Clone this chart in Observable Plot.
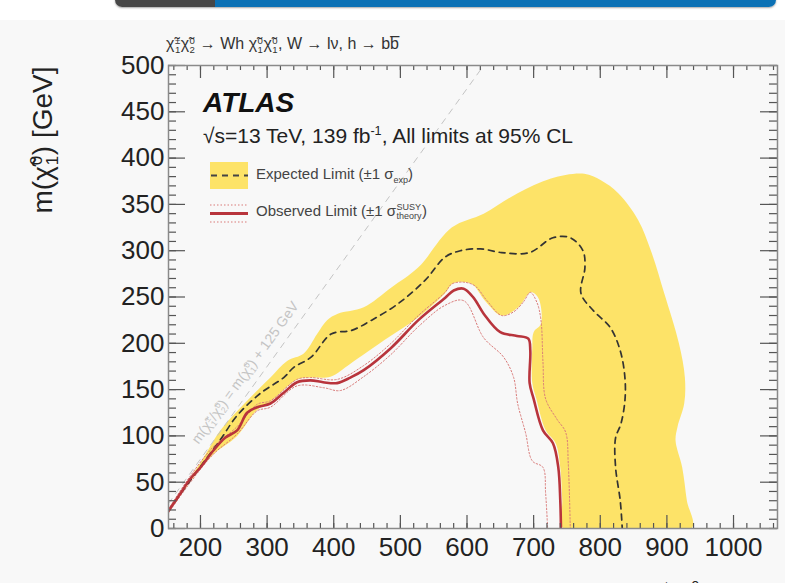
<!DOCTYPE html>
<html>
<head>
<meta charset="utf-8">
<script src="https://cdn.jsdelivr.net/npm/d3@7"></script>
<script src="https://cdn.jsdelivr.net/npm/@observablehq/plot@0.6"></script>
<style>
  body { margin: 0; background: #fff; font-family: "Liberation Sans", Arial, sans-serif; }
  #page { position: relative; width: 785px; height: 583px; overflow: hidden; background: #fff; }
  #bg { position: absolute; left: 0; top: 20px; width: 785px; height: 563px; background: #f8f8f8; }
  #bar { position: absolute; left: 115px; top: -7px; width: 661px; height: 14px; border-radius: 7px;
         background: linear-gradient(to right, #474747 0, #474747 100px, #0b71b5 100px);
         box-shadow: 0 1px 2px rgba(0,0,0,.35); }
  #chart { position: absolute; left: 0; top: 0; }
  .t { position: absolute; white-space: nowrap; color: #222; line-height: 1; }
  .ss { display: inline-flex; flex-direction: column; vertical-align: middle; font-size: 0.6em; line-height: 0.95; margin: 0 0.05em; }
  .sw { position: absolute; }
</style>
</head>
<body>
<div id="page">
  <div id="bg"></div>
  <div id="bar"></div>
  <div id="chart"></div>
</div>
<script>
// Axis ranges and ticks (GeV)
const xDomain = [152, 1066];
const yDomain = [0, 500];
const xMajor = [200, 300, 400, 500, 600, 700, 800, 900, 1000];
const xMinor = d3.range(160, 1066, 20);
const yMajor = [0, 50, 100, 150, 200, 250, 300, 350, 400, 450, 500];
const yMinor = d3.range(0, 501, 10);

// Kinematic boundary: m(chargino/neutralino2) = m(LSP) + m(h)
const higgsMass = 125;
const diagonalX = [152, 625];

// Observed limit contour [m(chi1+-/chi20), m(chi10)]
const observed = [[152,19],[170,38],[185,54],[200,66],[219,84],[237,98],[255,106],[270,125],[285,131],[305,135],[324,146],[345,158],[365,160],[384,158],[405,157],[425,163],[445,171],[486,195],[527,225],[567,249],[580,257],[595,259],[610,249],[625,232],[650,212],[675,208],[692,205],[695,192],[694,157],[700,140],[714,106],[729,92],[737,66],[740,30],[741,0]];

// Observed +1 sigma (theory)
const observedUp = [[152,21],[185,57],[219,88],[255,110],[285,134],[305,138],[345,161],[365,163],[405,161],[445,176],[486,200],[527,230],[567,255],[577,264],[595,266],[612,262],[630,246],[652,230],[670,234],[685,245],[695,255],[705,244],[711,225],[714,180],[718,140],[735,118],[748,104],[752,70],[755,0]];

// Observed -1 sigma (theory)
const observedDown = [[152,17],[185,50],[219,80],[255,102],[285,127],[305,131],[345,154],[385,152],[410,149],[445,164],[486,188],[527,218],[567,241],[595,246],[625,206],[655,185],[670,163],[676,135],[688,103],[698,73],[714,66],[718,38],[721,0]];

// Expected limit contour
const expected = [[152,19],[200,67],[230,96],[255,122],[290,146],[325,163],[340,174],[366,185],[396,210],[427,214],[457,225],[497,243],[537,268],[567,293],[590,300],[620,302],[652,298],[694,298],[729,314],[755,314],[774,300],[777,282],[771,254],[790,235],[815,217],[830,192],[837,163],[837,138],[831,113],[823,98],[823,66],[830,30],[833,0]];

// Expected +1 sigma (outer edge of the band)
const expectedUp = [[152,21],[200,71],[230,106],[270,138],[305,163],[330,181],[355,189],[375,210],[390,225],[406,232],[445,239],[486,260],[527,282],[577,325],[625,340],[676,362],[726,378],[776,383],[801,376],[827,362],[857,333],[876,300],[896,254],[918,200],[927,163],[926,135],[916,110],[913,95],[923,66],[930,30],[937,0]];

// Expected -1 sigma (inner edge of the band)
const expectedDown = [[152,17],[185,51],[219,80],[255,100],[285,128],[305,137],[345,161],[365,163],[395,164],[425,178],[475,203],[527,228],[567,254],[580,265],[607,264],[627,246],[652,230],[677,239],[696,255],[707,249],[711,221],[700,212],[698,195],[698,157],[704,140],[718,106],[733,92],[740,66],[743,30],[745,0]];

const band = expectedUp.concat(expectedDown.slice().reverse());

const X = d => d[0], Y = d => d[1];
const yellow = "#fde368";
const red = "#b8343c";
const pink = "#d97a78";
const tickColor = "#555";

const W = 785, H = 583, mT = 65, mL = 168, mR = 8, mB = 55;
const frameW = W - mL - mR, frameH = H - mT - mB;

// inward tick marks, drawn as short rules hugging each side of the frame
const ticksX = (values, len) => [
  Plot.ruleX(values, {x: d => d, insetTop: frameH - len, stroke: tickColor, strokeWidth: 1.2}),
  Plot.ruleX(values, {x: d => d, insetBottom: frameH - len, stroke: tickColor, strokeWidth: 1.2})
];
const ticksY = (values, len) => [
  Plot.ruleY(values, {y: d => d, insetRight: frameW - len, stroke: tickColor, strokeWidth: 1.2}),
  Plot.ruleY(values, {y: d => d, insetLeft: frameW - len, stroke: tickColor, strokeWidth: 1.2})
];

const chart = Plot.plot({
  width: W,
  height: H,
  marginTop: mT,
  marginLeft: mL,
  marginRight: mR,
  marginBottom: mB,
  x: {domain: xDomain, label: null},
  y: {domain: yDomain, label: null},
  style: {background: "transparent", fontFamily: "Liberation Sans, Arial, sans-serif", color: "#222"},
  marks: [
    Plot.line(band, {x: X, y: Y, fill: yellow, stroke: "none", curve: "catmull-rom", clip: true}),
    Plot.line(diagonalX, {x: d => d, y: d => d - higgsMass, stroke: "#c4c4c4", strokeWidth: 1, strokeDasharray: "6,6", clip: true}),
    Plot.line(expected, {x: X, y: Y, stroke: "#333", strokeWidth: 1.7, strokeDasharray: "6,5", curve: "catmull-rom", clip: true}),
    Plot.line(observedUp, {x: X, y: Y, stroke: pink, strokeWidth: 1, strokeDasharray: "1.5,2", curve: "catmull-rom", clip: true}),
    Plot.line(observedDown, {x: X, y: Y, stroke: pink, strokeWidth: 1, strokeDasharray: "1.5,2", curve: "catmull-rom", clip: true}),
    Plot.line(observed, {x: X, y: Y, stroke: red, strokeWidth: 2.6, curve: "catmull-rom", clip: true}),
    ...ticksX(xMinor, 5),
    ...ticksX(xMajor, 13),
    ...ticksY(yMinor, 8),
    ...ticksY(yMajor, 17),
    Plot.frame({stroke: "#8a8a8a", strokeWidth: 1.5}),
    // tick labels
    Plot.axisX(xMajor, {anchor: "bottom", tickSize: 0, tickPadding: 9, fontSize: 26, fill: "#222", tickFormat: d => String(d), label: null}),
    Plot.axisY(yMajor, {anchor: "left", tickSize: 0, tickPadding: 4, fontSize: 26, fill: "#222", tickFormat: d => String(d), label: null})
  ]
});
document.getElementById("chart").append(chart);

// Annotations, legend and axis titles
const page = document.getElementById("page");
function addText(html, style) {
  const el = document.createElement("div");
  el.className = "t";
  el.innerHTML = html;
  Object.assign(el.style, style);
  page.append(el);
  return el;
}
const chi = "χ&#771;";
const ss = (sup, sub) => `<span class="ss"><span>${sup}</span><span>${sub}</span></span>`;

addText(`${chi}${ss("±","1")}${chi}${ss("0","2")} → Wh ${chi}${ss("0","1")}${chi}${ss("0","1")}, W → lν, h → bb&#773;`,
  {left: "166px", top: "36px", fontSize: "16px", color: "#333"});

addText("ATLAS", {left: "203px", top: "89px", fontSize: "28px", fontWeight: "bold", fontStyle: "italic", color: "#111"});
addText("√s=13 TeV, 139 fb<sup style='font-size:0.6em'>-1</sup>, All limits at 95% CL",
  {left: "203px", top: "125px", fontSize: "21px", color: "#222"});

// legend swatches
const sw = document.createElementNS("http://www.w3.org/2000/svg", "svg");
sw.setAttribute("class", "sw");
sw.setAttribute("width", "60");
sw.setAttribute("height", "80");
sw.style.left = "200px";
sw.style.top = "155px";
sw.innerHTML = `
  <rect x="10" y="7" width="38" height="27" fill="${yellow}"/>
  <line x1="11" x2="48" y1="20.5" y2="20.5" stroke="#444" stroke-width="2" stroke-dasharray="6,5"/>
  <line x1="10" x2="48" y1="50" y2="50" stroke="${pink}" stroke-width="1" stroke-dasharray="1.5,2"/>
  <line x1="10" x2="48" y1="58.5" y2="58.5" stroke="${red}" stroke-width="3"/>
  <line x1="10" x2="48" y1="67" y2="67" stroke="${pink}" stroke-width="1" stroke-dasharray="1.5,2"/>`;
page.append(sw);

addText(`Expected Limit (±1 σ<sub style="font-size:0.6em">exp</sub>)`,
  {left: "256px", top: "166px", fontSize: "15px", color: "#444"});
addText(`Observed Limit (±1 σ${ss("SUSY","theory")})`,
  {left: "256px", top: "203px", fontSize: "15px", color: "#444"});

// label along the kinematic boundary
addText(`m(${chi}${ss("±","1")}/${chi}${ss("0","2")}) = m(${chi}${ss("0","1")}) + 125 GeV`,
  {left: "160px", top: "365px", fontSize: "14px", color: "#c4c4c4", transform: "rotate(-54deg)", transformOrigin: "50% 50%"});

// axis titles
addText(`m(${chi}${ss("0","1")}) [GeV]`,
  {left: "-40px", top: "124px", fontSize: "28px", color: "#222", transform: "rotate(-90deg)", transformOrigin: "50% 50%", width: "170px", textAlign: "center"});
addText(`m(${chi}${ss("±","1")}/${chi}${ss("0","2")}) [GeV]`,
  {right: "9px", top: "580px", fontSize: "24px", color: "#222"});
</script>
</body>
</html>
